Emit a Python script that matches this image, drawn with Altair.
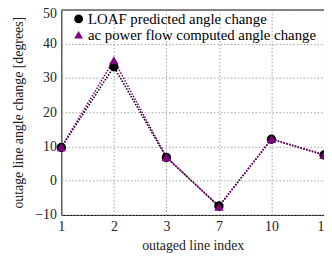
import altair as alt
import pandas as pd

x_labels = ["1", "2", "3", "7", "10", "15"]
loaf = [9.7, 33.3, 6.8, -7.4, 12.1, 7.5]
acpf = [9.8, 35.2, 6.9, -7.6, 12.2, 7.6]
series = ["LOAF predicted angle change", "ac power flow computed angle change"]

rows = []
for s, vals in zip(series, [loaf, acpf]):
    for i, (xl, v) in enumerate(zip(x_labels, vals)):
        rows.append({"series": s, "idx": xl, "val": v, "order": i})
df = pd.DataFrame(rows)

FONT = "Liberation Serif"

x_enc = alt.X(
    "idx:O", sort=x_labels,
    scale=alt.Scale(type="point", padding=0),
    axis=alt.Axis(title="outaged line index", labelAngle=0, grid=True,
                  gridDash=[1.5, 2], gridColor="#888", gridWidth=0.8,
                  tickSize=0, labelPadding=5, titlePadding=5, domain=False),
)
y_enc = alt.Y(
    "val:Q", scale=alt.Scale(domain=[-10, 50], nice=False, zero=False),
    axis=alt.Axis(title="outage line angle change [degrees]", values=[-10, 0, 10, 20, 30, 40, 50],
                  grid=True, gridDash=[1.5, 2], gridColor="#888", gridWidth=0.8,
                  tickSize=0, labelPadding=5, titlePadding=9, domain=False,
                  labelOffset={"expr": "datum.value == 50 ? 4 : 0"}),
)

color_scale = alt.Scale(domain=series, range=["black", "#800080"])
shape_scale = alt.Scale(domain=series, range=["circle", "triangle-up"])

leg = alt.Legend(title=None, orient="none", legendX=10, legendY=2,
                 labelFont=FONT, labelFontSize=15, labelColor="black", labelLimit=400,
                 symbolSize=80, rowPadding=-3, labelOffset=2, symbolStrokeWidth=0)

lines = alt.Chart(df).mark_line(strokeDash=[1.5, 1.5], strokeWidth=1.6).encode(
    x=x_enc, y=y_enc,
    color=alt.Color("series:N", scale=color_scale, legend=leg),
    detail="series:N",
    order="order:Q",
)

points = alt.Chart(df).mark_point(filled=True, size=90, opacity=1).encode(
    x=x_enc, y=y_enc,
    color=alt.Color("series:N", scale=color_scale, legend=leg),
    shape=alt.Shape("series:N", scale=shape_scale, legend=leg),
)

chart = alt.layer(lines, points).properties(
    width=266, height=208,
    autosize=alt.AutoSizeParams(type="none"),
    padding={"left": 54, "top": 0, "right": 0, "bottom": 37},
    background="white",
).configure(
    font=FONT
).configure_view(
    stroke="black", strokeWidth=1
).configure_axis(
    labelFont=FONT, labelFontSize=14, labelColor="#222",
    titleFont=FONT, titleFontSize=14, titleColor="#222", titleFontWeight="normal",
).configure_legend(
    labelFont=FONT, labelFontSize=15, labelColor="black", labelLimit=400,
    rowPadding=-3, symbolSize=80, labelOffset=2,
)

chart.save("out.html", embed_options={"renderer": "svg", "actions": False})
